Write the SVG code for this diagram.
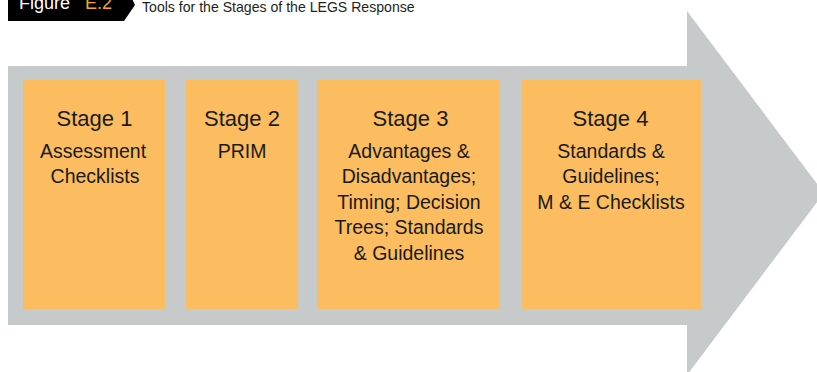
<svg xmlns="http://www.w3.org/2000/svg" width="817" height="372" viewBox="0 0 817 372">
<style>
.stage{fill:#fbbd5f;}
.t{font-family:"Liberation Sans",Arial,sans-serif;fill:#1a1a1a;text-anchor:middle;}
.h{font-size:22px;}
.b{font-size:19.5px;}
.hd{font-family:"Liberation Sans",Arial,sans-serif;}
</style>
<rect width="817" height="372" fill="#ffffff"/>
<g id="header">
<polygon points="8,-12 127,-12 135,5 124,21 8,21" fill="#000000"/>
<text class="hd" x="19" y="8.5" font-size="18" fill="#ffffff">Figure</text>
<text class="hd" x="85" y="8.5" font-size="18" fill="#f7a823">E.2</text>
<text class="hd" x="142" y="12" font-size="14.1" fill="#231f20">Tools for the Stages of the LEGS Response</text>
</g>
<g id="arrow">
<polygon points="8,66 687,66 687,11 824,193 687,375 687,325 8,325" fill="#c7cacb"/>
</g>
<g id="stage1">
<rect class="stage" x="23" y="80" width="142" height="229"/>
<text class="t h" x="94.5" y="125.5">Stage 1</text>
<text class="t b" x="93" y="157.5">Assessment</text>
<text class="t b" x="95" y="183">Checklists</text>
</g>
<g id="stage2">
<rect class="stage" x="186" y="80" width="112" height="229"/>
<text class="t h" x="242" y="125.5">Stage 2</text>
<text class="t b" x="242" y="157.5">PRIM</text>
</g>
<g id="stage3">
<rect class="stage" x="317" y="80" width="183" height="229"/>
<text class="t h" x="410.5" y="125.5">Stage 3</text>
<text class="t b" x="409" y="157.5">Advantages &amp;</text>
<text class="t b" x="409" y="183">Disadvantages;</text>
<text class="t b" x="409" y="208.5">Timing; Decision</text>
<text class="t b" x="409" y="234">Trees; Standards</text>
<text class="t b" x="409" y="259.5">&amp; Guidelines</text>
</g>
<g id="stage4">
<rect class="stage" x="522" y="80" width="179" height="229"/>
<text class="t h" x="610.5" y="125.5">Stage 4</text>
<text class="t b" x="611" y="157.5">Standards &amp;</text>
<text class="t b" x="611" y="183">Guidelines;</text>
<text class="t b" x="611" y="208.5">M &amp; E Checklists</text>
</g>
<g id="connectors"></g>
</svg>
